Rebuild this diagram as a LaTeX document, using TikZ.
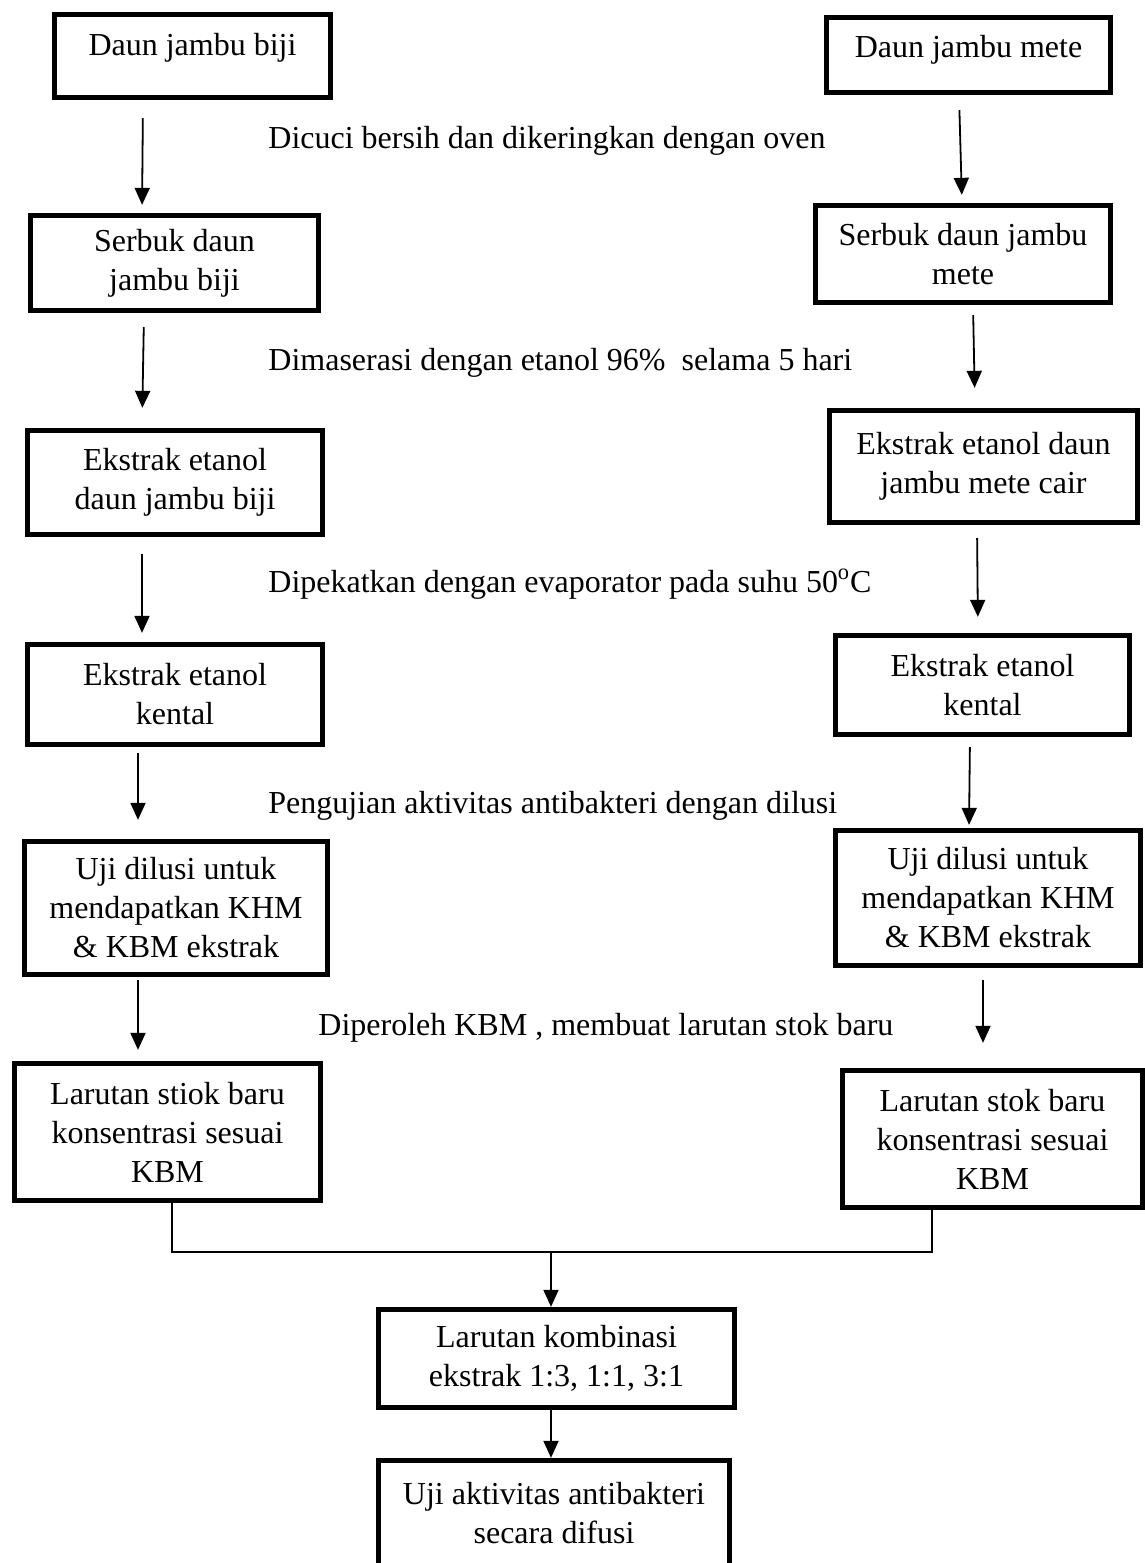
\documentclass[tikz,border=0pt]{standalone}
\usepackage{fontspec}
\setmainfont{Liberation Serif}
\usetikzlibrary{arrows.meta}
\tikzset{box/.style={draw, line width=2.4pt, align=center, inner sep=2pt,
  font=\fontsize{16}{19.5}\selectfont}}
\tikzset{arr/.style={-{Triangle[length=8.5pt,width=7.5pt]}, line width=0.9pt}}
\tikzset{lbl/.style={anchor=base west, inner sep=0pt,
  font=\fontsize{16}{19.5}\selectfont}}
\begin{document}
\begin{tikzpicture}[x=0.5pt,y=-0.5pt]
      \useasboundingbox (0,0) rectangle (1145,1563);
      % left column
      \node [box, minimum width=138.25pt, minimum height=41.75pt, text depth=11.5pt] (L1) at (192.5,56) {Daun jambu biji};
      \node [box, minimum width=144.25pt, minimum height=47.75pt] (L2) at (174.5,263) {Serbuk daun\\jambu biji};
      \node [box, minimum width=147.75pt, minimum height=52.25pt] (L3) at (175,482.5) {Ekstrak etanol\\daun jambu biji};
      \node [box, minimum width=147.75pt, minimum height=50.25pt] (L4) at (175,694.5) {Ekstrak etanol\\kental};
      \node [box, minimum width=151.75pt, minimum height=66.75pt] (L5) at (176,908) {Uji dilusi untuk\\mendapatkan KHM\\\& KBM ekstrak};
      \node [box, minimum width=153.25pt, minimum height=68.75pt] (L6) at (167.5,1132) {Larutan stiok baru\\konsentrasi sesuai\\KBM};
      % right column
      \node [box, minimum width=142.25pt, minimum height=37.75pt, text depth=9pt] (R1) at (968.5,55) {Daun jambu mete};
      \node [box, minimum width=147.75pt, minimum height=48.75pt] (R2) at (963,254) {Serbuk daun jambu\\mete};
      \node [box, minimum width=154.25pt, minimum height=56.25pt] (R3) at (983.5,466.5) {Ekstrak etanol daun\\jambu mete cair};
      \node [box, minimum width=147.25pt, minimum height=49.75pt] (R4) at (982.5,685) {Ekstrak etanol\\kental};
      \node [box, minimum width=152.75pt, minimum height=67.75pt] (R5) at (988,898) {Uji dilusi untuk\\mendapatkan KHM\\\& KBM ekstrak};
      \node [box, minimum width=150.25pt, minimum height=68.75pt] (R6) at (992.5,1139) {Larutan stok baru\\konsentrasi sesuai\\KBM};
      % bottom
      \node [box, minimum width=178.25pt, minimum height=49.25pt] (B7) at (556.5,1358.5) {Larutan kombinasi\\ekstrak 1:3, 1:1, 3:1};
      \node [box, minimum width=175.75pt, minimum height=52.75pt] (B8) at (554,1513) {Uji aktivitas antibakteri\\secara difusi};
      % step labels
      \node [lbl] (t1) at (268,148) {Dicuci bersih dan dikeringkan dengan oven};
      \node [lbl] (t2) at (268,370) {Dimaserasi dengan etanol 96\%\ \ selama 5 hari};
      \node [lbl] (t3) at (268,592) {Dipekatkan dengan evaporator pada suhu 50\textsuperscript{o}C};
      \node [lbl] (t4) at (268,813) {Pengujian aktivitas antibakteri dengan dilusi};
      \node [lbl] (t5) at (318,1035) {Diperoleh KBM , membuat larutan stok baru};
      % arrows
      \draw [arr, shorten <=9pt, shorten >=4pt] (L1.south -| 143,0) -- (L2.north -| 142,0);
      \draw [arr, shorten <=7pt, shorten >=10pt] (L2.south -| 144,0) -- (L3.north -| 142,0);
      \draw [arr, shorten <=8.5pt, shorten >=4.5pt] (L3.south -| 142,0) -- (L4.north -| 142,0);
      \draw [arr, shorten <=3pt, shorten >=9.5pt] (L4.south -| 138,0) -- (L5.north -| 138,0);
      \draw [arr, shorten <=1.5pt, shorten >=5.5pt] (L5.south -| 138,0) -- (L6.north -| 138,0);
      \draw [arr, shorten <=7.5pt, shorten >=4pt] (R1.south -| 959,0) -- (R2.north -| 962,0);
      \draw [arr, shorten <=5pt, shorten >=10pt] (R2.south -| 973,0) -- (R3.north -| 975,0);
      \draw [arr, shorten <=6.5pt, shorten >=8pt] (R3.south -| 977,0) -- (R4.north -| 978,0);
      \draw [arr, shorten <=5pt, shorten >=1.5pt] (R4.south -| 970,0) -- (R5.north -| 969,0);
      \draw [arr, shorten <=6pt, shorten >=12.5pt] (R5.south -| 983,0) -- (R6.north -| 983,0);
      % join
      \coordinate (jl) at (172,1252);
      \coordinate (jr) at (932,1252);
      \coordinate (jm) at (551,1252);
      \draw [line width=0.6pt] (L6.south -| jl) -- (jl) -- (jr) -- (R6.south -| jr);
      \draw [arr] (jm) -- (B7.north -| jm);
      \draw [arr] (B7.south -| jm) -- (B8.north -| jm);
    \end{tikzpicture}
\end{document}
